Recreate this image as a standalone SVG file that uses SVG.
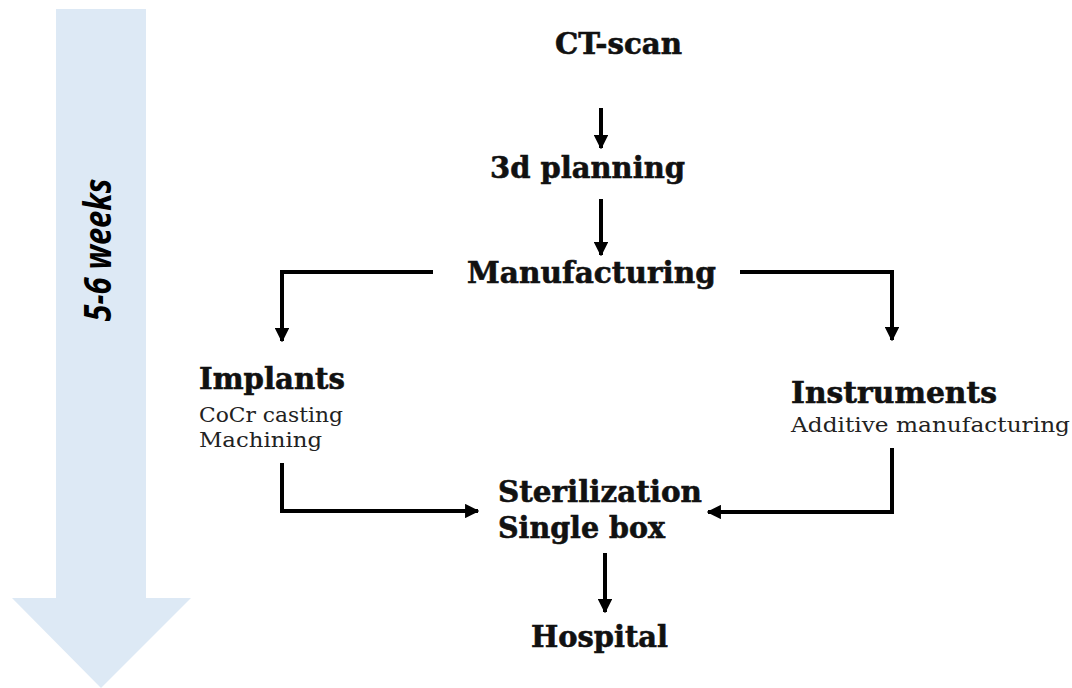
<svg xmlns="http://www.w3.org/2000/svg" width="1072" height="688" viewBox="0 0 1072 688">
<defs>
<marker id="ah" viewBox="0 0 10 10" refX="9" refY="5" markerWidth="3.6" markerHeight="3.6" orient="auto" markerUnits="strokeWidth">
<path d="M0,0 L10,5 L0,10 z" fill="#000"/>
</marker>
<style>
.t{font-family:"DejaVu Serif","Liberation Serif",serif;font-weight:bold;font-size:29px;fill:#111;stroke:#111;stroke-width:0.6}
.s{font-family:"DejaVu Serif","Liberation Serif",serif;font-size:21px;fill:#222}
.c{fill:none;stroke:#000;stroke-width:4;marker-end:url(#ah)}
</style>
</defs>
<rect width="1072" height="688" fill="#fff"/>
<g id="timeline">
<polygon points="56,9 146,9 146,598 191,598 101,688 12,598 56,598" fill="#dde9f5"/>
<text transform="translate(111,250) rotate(-90)" text-anchor="middle" font-family="'Open Sans',sans-serif" font-weight="bold" font-style="italic" font-size="37" textLength="143" lengthAdjust="spacingAndGlyphs" fill="#000">5-6 weeks</text>
</g>
<g id="ct-scan"><text class="t" x="555" y="54" textLength="127" lengthAdjust="spacingAndGlyphs">CT-scan</text></g>
<g id="planning"><text class="t" x="490" y="178" textLength="195" lengthAdjust="spacingAndGlyphs">3d planning</text></g>
<g id="manufacturing"><text class="t" x="467" y="283" textLength="249" lengthAdjust="spacingAndGlyphs">Manufacturing</text></g>
<g id="implants">
<text class="t" x="199" y="389" textLength="146" lengthAdjust="spacingAndGlyphs">Implants</text>
<text class="s" x="199" y="422" textLength="144" lengthAdjust="spacingAndGlyphs">CoCr casting</text>
<text class="s" x="199" y="447" textLength="123" lengthAdjust="spacingAndGlyphs">Machining</text>
</g>
<g id="instruments">
<text class="t" x="791" y="403" textLength="206" lengthAdjust="spacingAndGlyphs">Instruments</text>
<text class="s" x="791" y="432" textLength="279" lengthAdjust="spacingAndGlyphs">Additive manufacturing</text>
</g>
<g id="sterilization">
<text class="t" x="498" y="502" textLength="204" lengthAdjust="spacingAndGlyphs">Sterilization</text>
<text class="t" x="498" y="538" textLength="167" lengthAdjust="spacingAndGlyphs">Single box</text>
</g>
<g id="hospital"><text class="t" x="531" y="647" textLength="137" lengthAdjust="spacingAndGlyphs">Hospital</text></g>
<g id="connectors">
<path class="c" d="M601,108 V148"/>
<path class="c" d="M601,199 V255"/>
<path class="c" d="M433,272 H282 V341"/>
<path class="c" d="M740,272 H892 V340"/>
<path class="c" d="M282,463 V511 H478"/>
<path class="c" d="M892,448 V512 H708"/>
<path class="c" d="M605,553 V612"/>
</g>
</svg>
